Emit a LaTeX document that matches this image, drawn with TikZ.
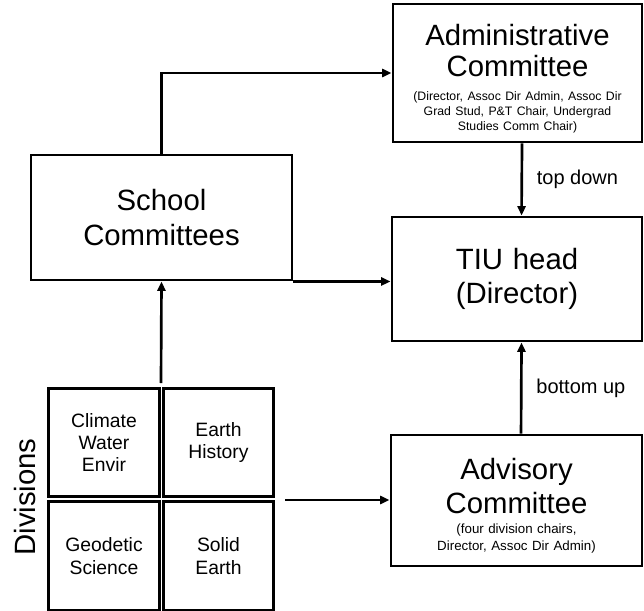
\documentclass[tikz,border=0pt]{standalone}
\usepackage{fontspec}
\setmainfont{Liberation Sans}
\usetikzlibrary{arrows.meta}
\newcommand{\bigtext}{\fontsize{22}{26}\selectfont}
\newcommand{\admintext}{\fontsize{22}{23}\selectfont}
\newcommand{\smalltext}{\fontsize{9.2}{11.25}\selectfont}
\newcommand{\advtext}{\fontsize{10}{12.75}\selectfont}

\begin{document}
\begin{tikzpicture}[x=0.75pt, y=-0.75pt,
    box/.style={draw, line width=2.2pt, inner sep=0pt, align=center},
    divbox/.style={box, text width=82.9pt, minimum height=81.4pt, font=\fontsize{14.5}{16.7}\selectfont},
    link/.style={line width=2pt, -{Triangle[length=7pt,width=6pt]}},
    flowlabel/.style={right=7pt, font=\fontsize{15}{18}\selectfont}]

    \useasboundingbox (0,0) rectangle (644,611);

    % committees and head
    \node[box, text width=186.75pt, minimum height=103.5pt] (admin) at (517.5,73) {%
        {\admintext\rule{0pt}{24pt}Administrative\\Committee\par}\vspace{6.75pt}%
        {\smalltext (Director, Assoc Dir Admin, Assoc Dir\\Grad Stud, P\&T Chair, Undergrad\\Studies Comm Chair)\par}};
    \node[box, text width=195.75pt, minimum height=93.75pt, font=\bigtext] (school) at (161.5,217.5) {School\\Committees};
    \node[box, text width=187.5pt, minimum height=93pt, font=\bigtext] (tiu) at (517,279) {TIU head\\(Director)};
    \node[box, text width=188.25pt, minimum height=98.25pt] (advisory) at (516.5,500.5) {%
        {\bigtext\rule{0pt}{24pt}Advisory\\Committee\par}\vspace{2.25pt}%
        {\advtext (four division chairs,\\Director, Assoc Dir Admin)\par}};

    % divisions
    \node[divbox] (climate) at (104,442.5) {Climate\\Water\\Envir};
    \node[divbox] (earthhist) at (218.5,442.5) {Earth\\History};
    \node[divbox] (geodetic) at (104,556) {Geodetic\\Science};
    \node[divbox] (solid) at (218.5,556) {Solid\\Earth};
    \node[rotate=90, font=\fontsize{22}{26}\selectfont] (divlabel) at (25,497) {Divisions};

    \coordinate (divtop) at (161,383);
    \coordinate (divright) at (285,500);

    % connectors
    \draw[link] (school.north) |- (admin.west);
    \draw[link] (school.south east) -- (school.south east -| tiu.west);
    \draw[link] ([xshift=3.4pt]admin.south) -- node[flowlabel] {top down} ([xshift=3.4pt]tiu.north);
    \draw[link] ([xshift=3.4pt]advisory.north) -- node[flowlabel] {bottom up} ([xshift=3.4pt]tiu.south);
    \draw[link] (divtop) -- (school.south);
    \draw[link] (divright) -- (divright -| advisory.west);
\end{tikzpicture}
\end{document}
